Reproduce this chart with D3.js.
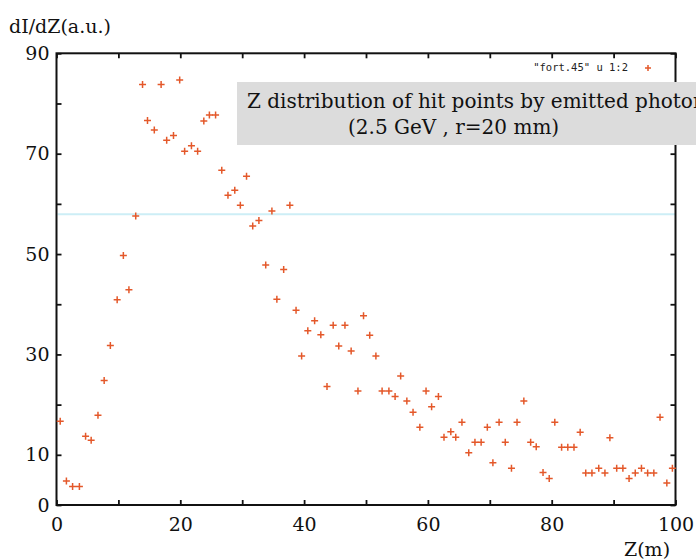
<!DOCTYPE html>
<html>
<head>
<meta charset="utf-8">
<script src="https://cdn.jsdelivr.net/npm/d3@7"></script>
<style>
  html, body { margin: 0; padding: 0; background: #fff; }
  svg { display: block; }
  .tick text { font-family: "DejaVu Serif", "Liberation Serif", serif; font-size: 19px; fill: #111; }
</style>
</head>
<body>
<svg id="chart" width="696" height="560"></svg>
<script>
// Z positions of the histogram bins (m)
const zPos = [0.6,1.6,2.6,3.7,4.7,5.6,6.7,7.7,8.7,9.8,
  10.8,11.7,12.8,13.9,14.7,15.8,16.9,17.8,18.9,19.9,
  20.7,21.8,22.8,23.8,24.7,25.7,26.7,27.7,28.8,29.7,
  30.7,31.7,32.7,33.8,34.8,35.6,36.7,37.7,38.7,39.6,
  40.6,41.7,42.7,43.7,44.7,45.6,46.6,47.6,48.7,49.6,
  50.6,51.6,52.6,53.7,54.7,55.6,56.6,57.6,58.7,59.7,
  60.6,61.7,62.6,63.7,64.5,65.5,66.6,67.6,68.6,69.6,
  70.5,71.5,72.5,73.5,74.4,75.5,76.6,77.5,78.6,79.6,
  80.5,81.6,82.6,83.6,84.6,85.5,86.5,87.6,88.6,89.4,
  90.5,91.5,92.5,93.5,94.5,95.5,96.5,97.5,98.6,99.5];

// dI/dZ per bin (arbitrary units)
const dIdZ = [16.7,4.8,3.7,3.7,13.7,12.9,17.9,24.8,31.8,40.9,
  49.7,42.9,57.6,83.8,76.6,74.7,83.8,72.7,73.6,84.7,
  70.5,71.6,70.5,76.5,77.7,77.7,66.7,61.7,62.7,59.7,
  65.5,55.6,56.7,47.8,58.6,41.0,46.9,59.7,38.8,29.7,
  34.7,36.7,33.9,23.6,35.8,31.7,35.8,30.7,22.7,37.7,
  33.8,29.7,22.7,22.7,21.6,25.7,20.7,18.5,15.5,22.7,
  19.6,21.6,13.5,14.6,13.5,16.5,10.4,12.5,12.5,15.5,
  8.4,16.5,12.5,7.3,16.5,20.7,12.5,11.6,6.5,5.3,
  16.5,11.5,11.5,11.5,14.5,6.4,6.4,7.3,6.4,13.4,
  7.3,7.3,5.3,6.4,7.3,6.4,6.4,17.5,4.4,7.3];

const xTicks = [0,10,20,30,40,50,60,70,80,90,100];
const xTickLabels = [0,20,40,60,80,100];
const yTicks = [0,10,20,30,40,50,60,70,80,90];
const yTickLabels = [0,10,30,50,70,90];

const serif = "'DejaVu Serif', 'Liberation Serif', serif";
const svg = d3.select("#chart");
const W = 696, H = 560;
const plot = { left: 56.5, right: 675.5, top: 53.3, bottom: 505 };

const x = d3.scaleLinear().domain([0, 100]).range([plot.left, plot.right]);
const y = d3.scaleLinear().domain([0, 90]).range([plot.bottom, plot.top]);

svg.append("rect").attr("width", W).attr("height", H).attr("fill", "#fff");

// faint horizontal scan line across the plot
svg.append("line")
  .attr("x1", plot.left + 1).attr("x2", plot.right)
  .attr("y1", 214.3).attr("y2", 214.3)
  .attr("stroke", "#cdeef6").attr("stroke-width", 2);

// axes: ticks point inward on all four sides
const fmt = labels => d => labels.includes(d) ? d : "";

svg.append("g").attr("transform", `translate(0,${plot.bottom})`)
  .call(d3.axisBottom(x).tickValues(xTicks).tickSizeInner(-5).tickSizeOuter(0)
    .tickPadding(13).tickFormat(fmt(xTickLabels)))
  .call(g => g.select(".domain").remove());

svg.append("g").attr("transform", `translate(0,${plot.top})`)
  .call(d3.axisTop(x).tickValues(xTicks).tickSizeInner(-5).tickSizeOuter(0).tickFormat(""))
  .call(g => g.select(".domain").remove());

svg.append("g").attr("transform", `translate(${plot.left},0)`)
  .call(d3.axisLeft(y).tickValues(yTicks).tickSizeInner(-5).tickSizeOuter(0)
    .tickPadding(7).tickFormat(fmt(yTickLabels)))
  .call(g => g.select(".domain").remove());

svg.append("g").attr("transform", `translate(${plot.right},0)`)
  .call(d3.axisRight(y).tickValues(yTicks).tickSizeInner(-5).tickSizeOuter(0).tickFormat(""))
  .call(g => g.select(".domain").remove());

svg.selectAll(".tick line").attr("stroke", "#111").attr("stroke-width", 1.8);

// frame
svg.append("rect")
  .attr("x", plot.left).attr("y", plot.top)
  .attr("width", plot.right - plot.left).attr("height", plot.bottom - plot.top)
  .attr("fill", "none").attr("stroke", "#111").attr("stroke-width", 2);

// axis titles
svg.append("text").attr("x", 9).attr("y", 33)
  .style("font-family", serif).style("font-size", "19px")
  .attr("fill", "#111").text("dI/dZ(a.u.)");

svg.append("text").attr("x", 624).attr("y", 556)
  .style("font-family", serif).style("font-size", "19px")
  .attr("fill", "#111").text("Z(m)");

// "+" markers
const markerColor = "#e4582a";
const cross = (sel, s) => sel.append("path")
  .attr("d", `M${-s},0H${s}M0,${-s}V${s}`)
  .attr("stroke", markerColor).attr("stroke-width", 1.5).attr("fill", "none");

const pts = svg.append("g").selectAll("g")
  .data(zPos.map((z, i) => [z, dIdZ[i]]))
  .join("g")
  .attr("transform", d => `translate(${x(d[0])},${y(d[1])})`);
cross(pts, 3.5);

// key
svg.append("text").attr("x", 628).attr("y", 71).attr("text-anchor", "end")
  .style("font-family", "'DejaVu Sans Mono', 'Liberation Mono', monospace").style("font-size", "10.5px")
  .attr("fill", "#222").text('"fort.45" u 1:2');
cross(svg.append("g").attr("transform", "translate(648,68)"), 3);

// caption box
svg.append("rect").attr("x", 237).attr("y", 82).attr("width", 480).attr("height", 63)
  .attr("fill", "#dcdcdc");
const cap = svg.append("text")
  .style("font-family", serif).style("font-size", "20px")
  .attr("fill", "#111");
cap.append("tspan").attr("x", 247).attr("y", 108).text("Z distribution of hit points by emitted photons");
cap.append("tspan").attr("x", 348).attr("y", 134).text("(2.5 GeV , r=20 mm)");
</script>
</body>
</html>
